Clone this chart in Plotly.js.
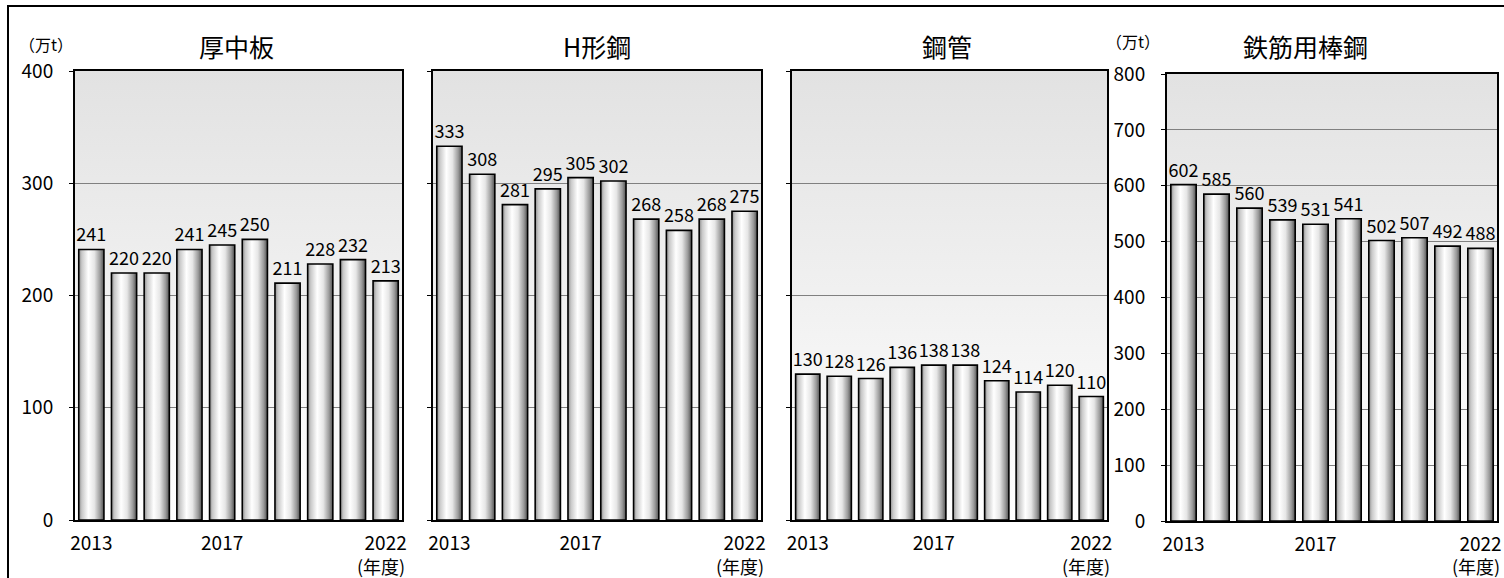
<!DOCTYPE html>
<html>
<head>
<meta charset="utf-8">
<script src="https://cdn.plot.ly/plotly-3.0.1.min.js"></script>
<style>
html,body{margin:0;padding:0;background:#fff;}
#chart{width:1504px;height:578px;}
</style>
</head>
<body>
<div id="chart"></div>
<script>
const years = ["2013","2014","2015","2016","2017","2018","2019","2020","2021","2022"];
const tickYears = ["2013","2017","2022"];
const tickLabels = ["2013","2017","2022"];
const yearUnit = "(年度)";
const titles = ["厚中板","H形鋼","鋼管","鉄筋用棒鋼"];
const atsuchuban = [241,220,220,241,245,250,211,228,232,213];
const hkeiko = [333,308,281,295,305,302,268,258,268,275];
const kokan = [130,128,126,136,138,138,124,114,120,110];
const tekkin = [602,585,560,539,531,541,502,507,492,488];
const unitLabel = "（万t）";

const W = 1504, H = 578;
const FONT = "Noto Sans CJK JP, Noto Sans, sans-serif";
const px = v => v / W;
const py = v => (H - v) / H;

const series = [atsuchuban, hkeiko, kokan, tekkin];
const xDom = [[75,402],[433,761],[792,1107],[1167,1497]];
const yDom = [[520,71],[520,71],[520,71],[521,74]];
const yMax = [400,400,400,800];

const data = series.map((vals, i) => ({
  type: 'bar',
  x: years,
  y: vals,
  xaxis: i === 0 ? 'x' : 'x' + (i + 1),
  yaxis: i === 0 ? 'y' : 'y' + (i + 1),
  text: vals.map(String),
  textposition: 'outside',
  constraintext: 'none',
  cliponaxis: false,
  textfont: {family: FONT, size: 18, color: '#000'},
  marker: {color: '#cccccc', line: {color: '#000', width: 1.6}},
  hoverinfo: 'x+y',
  showlegend: false
}));

const layout = {
  width: W, height: H,
  margin: {l: 0, r: 0, t: 0, b: 0},
  paper_bgcolor: '#fff',
  plot_bgcolor: '#eeeeee',
  bargap: 0.23,
  font: {family: FONT, color: '#000'},
  annotations: [],
  shapes: [{
    type: 'rect', xref: 'paper', yref: 'paper',
    x0: px(8), x1: px(1520), y0: py(6), y1: py(600),
    line: {color: '#000', width: 2}, fillcolor: 'rgba(0,0,0,0)', layer: 'above'
  }]
};

for (let i = 0; i < 4; i++) {
  const xk = i === 0 ? 'xaxis' : 'xaxis' + (i + 1);
  const yk = i === 0 ? 'yaxis' : 'yaxis' + (i + 1);
  const showY = (i === 0 || i === 3);
  layout[xk] = {
    domain: [px(xDom[i][0]), px(xDom[i][1])],
    anchor: i === 0 ? 'y' : 'y' + (i + 1),
    type: 'category',
    tickmode: 'array', tickvals: tickYears, ticktext: tickLabels,
    tickfont: {family: FONT, size: 19, color: '#000'},
    ticks: '', showgrid: false, zeroline: false,
    showline: true, mirror: true, linecolor: '#000', linewidth: 2,
    ticklabelstandoff: 5,
    fixedrange: true
  };
  layout[yk] = {
    domain: [py(yDom[i][0]), py(yDom[i][1])],
    anchor: i === 0 ? 'x' : 'x' + (i + 1),
    range: [0, yMax[i]],
    dtick: 100, tick0: 0,
    showticklabels: showY,
    tickfont: {family: FONT, size: 19, color: '#000'},
    ticks: 'outside', ticklen: 4, tickcolor: '#000', tickwidth: 1,
    ticklabelstandoff: 12,
    showgrid: true, gridcolor: '#808080', gridwidth: 1,
    zeroline: false,
    showline: true, mirror: true, linecolor: '#000', linewidth: 2,
    fixedrange: true
  };
  layout.annotations.push({
    text: yearUnit, xref: 'paper', yref: 'paper',
    x: px(Math.min(xDom[i][1] + 5, 1502)), y: py(566), xanchor: 'right', yanchor: 'middle',
    showarrow: false, font: {family: FONT, size: 18, color: '#000'}
  });
}

const titleX = [236, 597, 947, 1305];
titles.forEach((t, i) => {
  layout.annotations.push({
    text: t, xref: 'paper', yref: 'paper',
    x: px(titleX[i]), y: py(46), xanchor: 'center', yanchor: 'middle',
    showarrow: false, font: {family: FONT, size: 25, color: '#000'}
  });
});
[[46, 44], [1133, 41]].forEach(p => {
  layout.annotations.push({
    text: unitLabel, xref: 'paper', yref: 'paper',
    x: px(p[0]), y: py(p[1]), xanchor: 'center', yanchor: 'middle',
    showarrow: false, font: {family: FONT, size: 16, color: '#000'}
  });
});

Plotly.newPlot('chart', data, layout, {displayModeBar: false, staticPlot: true}).then(gd => {
  const svg = gd.querySelector('svg.main-svg');
  const NS = 'http://www.w3.org/2000/svg';
  let defs = svg.querySelector('defs');
  if (!defs) { defs = document.createElementNS(NS, 'defs'); svg.insertBefore(defs, svg.firstChild); }
  function grad(id, x2, y2, stops) {
    const g = document.createElementNS(NS, 'linearGradient');
    g.setAttribute('id', id);
    g.setAttribute('x1', '0'); g.setAttribute('y1', '0');
    g.setAttribute('x2', x2); g.setAttribute('y2', y2);
    stops.forEach(s => {
      const st = document.createElementNS(NS, 'stop');
      st.setAttribute('offset', s[0]);
      st.setAttribute('stop-color', s[1]);
      g.appendChild(st);
    });
    defs.appendChild(g);
  }
  grad('barGrad', '1', '0', [['0', '#8a8a8a'], ['0.12', '#c8c8c8'], ['0.38', '#ffffff'], ['0.62', '#e6e6e6'], ['0.85', '#9a9a9a'], ['1', '#505050']]);
  grad('bgGrad', '0', '1', [['0', '#e2e2e2'], ['1', '#ffffff']]);
  gd.querySelectorAll('.bglayer rect.bg').forEach(r => { r.style.fill = 'url(#bgGrad)'; });
  gd.querySelectorAll('g.trace.bars g.point path').forEach(p => { p.style.fill = 'url(#barGrad)'; });
});
</script>
</body>
</html>
